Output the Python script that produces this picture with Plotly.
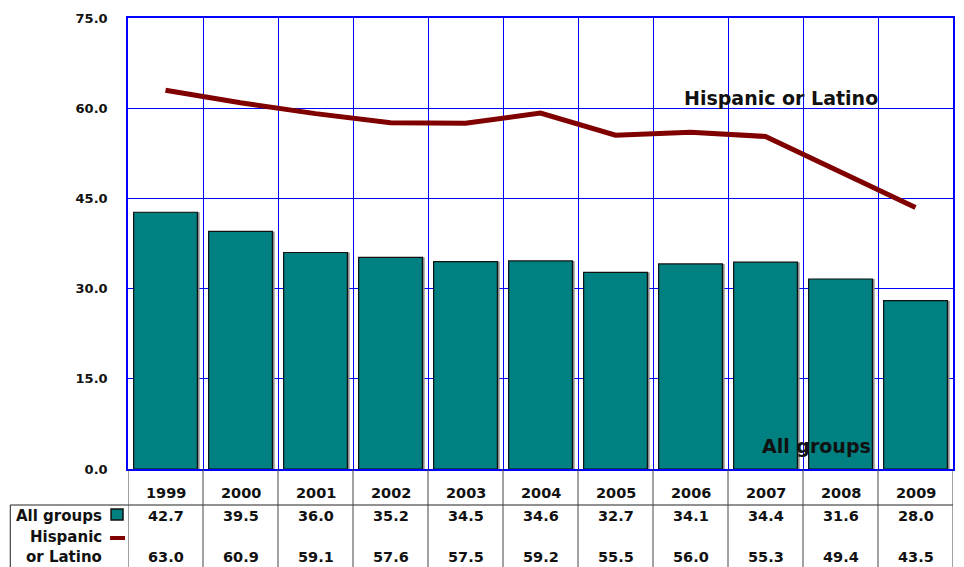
import plotly.graph_objects as go

years = ["1999", "2000", "2001", "2002", "2003", "2004", "2005", "2006", "2007", "2008", "2009"]
all_groups = [42.7, 39.5, 36.0, 35.2, 34.5, 34.6, 32.7, 34.1, 34.4, 31.6, 28.0]
hispanic = [63.0, 60.9, 59.1, 57.6, 57.5, 59.2, 55.5, 56.0, 55.3, 49.4, 43.5]
y_ticks = [0, 15, 30, 45, 60, 75]

W, H = 964, 567
L, R, T, B = 128, 955, 18, 469
FONT = "DejaVu Sans"
TEAL = "#008080"
RED = "#800000"
BLUE = "#0000FF"

def px(x):
    return (x - L) / (R - L)

def py(y):
    return (B - y) / (B - T)

xs = list(range(len(years)))
fig = go.Figure()
# shadow
fig.add_trace(go.Bar(x=xs, y=all_groups, width=0.85, offset=-0.425 + 0.03,
                     marker=dict(color="#8a8a8a", line=dict(width=0)),
                     hoverinfo="skip", showlegend=False))
fig.add_trace(go.Bar(x=xs, y=all_groups, width=0.85, offset=-0.425,
                     marker=dict(color=TEAL, line=dict(color="#111111", width=1.2)),
                     name="All groups", showlegend=False))
fig.add_trace(go.Scatter(x=xs, y=hispanic, mode="lines",
                         line=dict(color=RED, width=5),
                         name="Hispanic or Latino", showlegend=False))

shapes = []
# table lines
shapes.append(dict(type="line", xref="paper", yref="paper",
                   x0=px(10), x1=px(955), y0=py(505), y1=py(505),
                   line=dict(color="#222222", width=1)))
shapes.append(dict(type="line", xref="paper", yref="paper",
                   x0=px(10), x1=px(10), y0=py(505), y1=py(567),
                   line=dict(color="#222222", width=1)))
for i in range(len(years) + 1):
    shapes.append(dict(type="line", xref="x", yref="paper",
                       x0=i - 0.5, x1=i - 0.5, y0=py(469), y1=py(567),
                       line=dict(color="#444444", width=1)))
# legend keys in table
shapes.append(dict(type="rect", xref="paper", yref="paper",
                   x0=px(111), x1=px(123), y0=py(520), y1=py(509),
                   fillcolor=TEAL, line=dict(color="#111111", width=1.5)))
shapes.append(dict(type="line", xref="paper", yref="paper",
                   x0=px(110), x1=px(125), y0=py(538), y1=py(538),
                   line=dict(color=RED, width=4)))

ann = []
bold = dict(family=FONT, size=14.5, color="#111111")
lab = dict(family=FONT, size=15, color="#111111")
for i, yr in enumerate(years):
    ann.append(dict(x=i, y=py(493), xref="x", yref="paper", text=f"<b>{yr}</b>",
                    xanchor="center", yanchor="middle", showarrow=False, font=bold))
    ann.append(dict(x=i, y=py(516), xref="x", yref="paper", text=f"<b>{all_groups[i]:.1f}</b>",
                    xanchor="center", yanchor="middle", showarrow=False, font=bold))
    ann.append(dict(x=i, y=py(557), xref="x", yref="paper", text=f"<b>{hispanic[i]:.1f}</b>",
                    xanchor="center", yanchor="middle", showarrow=False, font=bold))
ann.append(dict(x=px(104), y=py(516), xref="paper", yref="paper", text="<b>All groups</b>",
                xanchor="right", yanchor="middle", showarrow=False, font=lab))
ann.append(dict(x=px(104), y=py(537), xref="paper", yref="paper", text="<b>Hispanic</b>",
                xanchor="right", yanchor="middle", showarrow=False, font=lab))
ann.append(dict(x=px(104), y=py(557), xref="paper", yref="paper", text="<b>or Latino</b>",
                xanchor="right", yanchor="middle", showarrow=False, font=lab))
ann.append(dict(x=px(783), y=py(98), xref="paper", yref="paper", text="<b>Hispanic or Latino</b>",
                xanchor="center", yanchor="middle", showarrow=False,
                font=dict(family=FONT, size=19, color="#111111")))
ann.append(dict(x=px(818), y=py(446), xref="paper", yref="paper", text="<b>All groups</b>",
                xanchor="center", yanchor="middle", showarrow=False,
                font=dict(family=FONT, size=19, color="#111111")))

fig.update_layout(
    width=W, height=H,
    margin=dict(l=L, r=W - R, t=T, b=H - B),
    paper_bgcolor="white", plot_bgcolor="white",
    barmode="overlay",
    shapes=shapes, annotations=ann,
    xaxis=dict(range=[-0.5, 10.5], tickmode="linear", tick0=0.5, dtick=1,
               showticklabels=False, showgrid=True, gridcolor=BLUE, gridwidth=1,
               showline=True, linecolor=BLUE, linewidth=1.5, mirror=True, zeroline=False),
    yaxis=dict(range=[0, 75], tickvals=y_ticks, ticktext=[f"<b>{v:.1f}</b>" for v in y_ticks],
               showgrid=True, gridcolor=BLUE, gridwidth=1, zeroline=False,
               showline=True, linecolor=BLUE, linewidth=1.5, mirror=True,
               ticks="", ticklabelstandoff=16,
               tickfont=dict(family=FONT, size=13, color="#111111")),
)
fig.write_html("out.html", config={"displayModeBar": False},
               post_script="document.body.style.margin='0';document.body.style.overflow='hidden';")
